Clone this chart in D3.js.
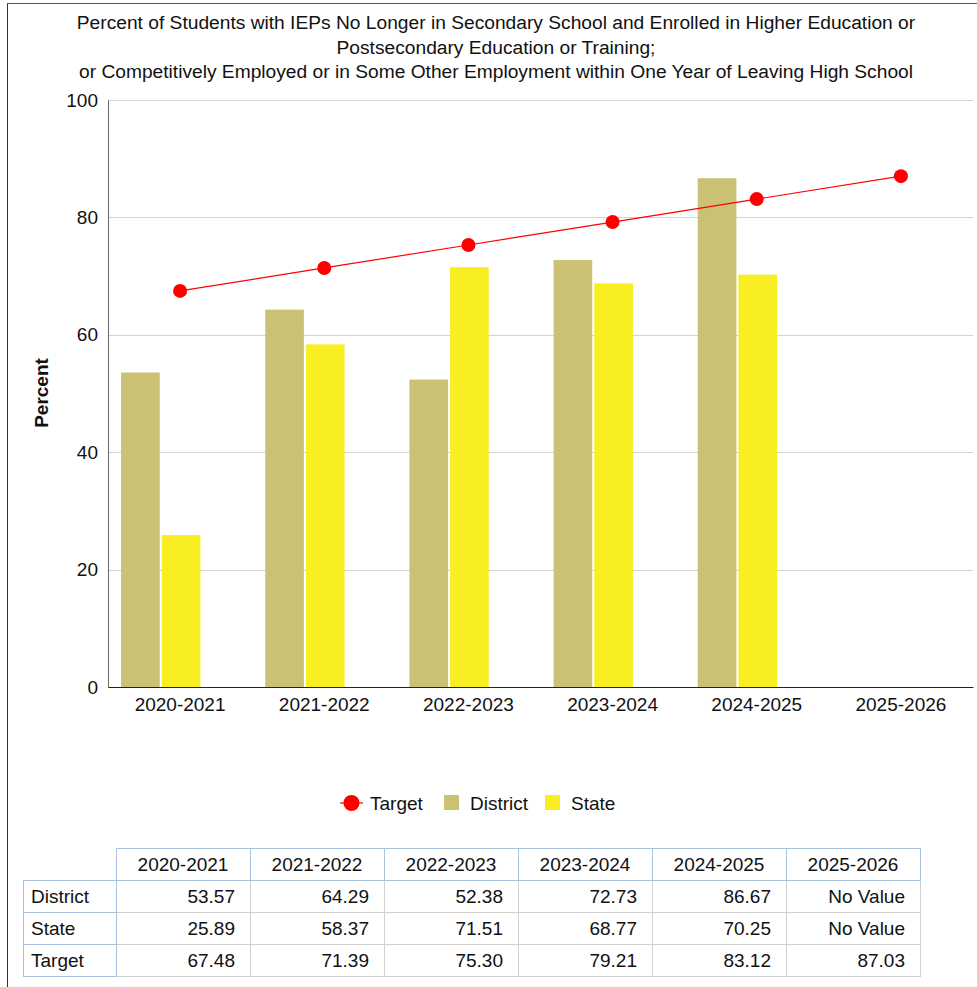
<!DOCTYPE html>
<html>
<head>
<meta charset="utf-8">
<script src="https://cdn.jsdelivr.net/npm/d3@7"></script>
<style>
  html, body { margin: 0; padding: 0; background: #fff; }
  svg { display: block; font-family: "Liberation Sans", Arial, sans-serif; }
</style>
</head>
<body>
<svg id="chart" width="977" height="987"></svg>
<script>
const categories = ["2020-2021", "2021-2022", "2022-2023", "2023-2024", "2024-2025", "2025-2026"];
const districtValues = [53.57, 64.29, 52.38, 72.73, 86.67, null];
const stateValues = [25.89, 58.37, 71.51, 68.77, 70.25, null];
const targetValues = [67.48, 71.39, 75.30, 79.21, 83.12, 87.03];
const yTicks = [0, 20, 40, 60, 80, 100];
const titleLines = [
  "Percent of Students with IEPs No Longer in Secondary School and Enrolled in Higher Education or",
  "Postsecondary Education or Training;",
  "or Competitively Employed or in Some Other Employment within One Year of Leaving High School"
];
const seriesNames = ["District", "State", "Target"];

const colors = { District: "#cbc174", State: "#f8ee22", Target: "#ff0000" };
const FS = 19;

const svg = d3.select("#chart");

// outer frame
svg.append("line").attr("x1", 7.5).attr("x2", 7.5).attr("y1", 3).attr("y2", 987).attr("stroke", "#333").attr("stroke-width", 1);
svg.append("line").attr("x1", 7).attr("x2", 977).attr("y1", 3.5).attr("y2", 3.5).attr("stroke", "#555").attr("stroke-width", 1);

const plot = { left: 108, right: 973, top: 100, bottom: 687 };

const x = d3.scaleBand().domain(categories).range([plot.left, plot.right]).padding(0);
const y = d3.scaleLinear().domain([0, 100]).range([plot.bottom, plot.top]);
// three series slots per category; Target slot is drawn as a line
const sub = d3.scaleBand().domain(seriesNames).range([-59, 61]).paddingInner(0.05);

// title
const title = svg.append("text").attr("text-anchor", "middle").attr("font-size", 19.2).attr("fill", "#111");
titleLines.forEach((t, i) => {
  title.append("tspan").attr("x", 496).attr("y", 29 + i * 24.5).text(t);
});

// gridlines
svg.append("g").selectAll("line").data(yTicks.filter(d => d > 0)).join("line")
  .attr("x1", plot.left).attr("x2", plot.right)
  .attr("y1", d => Math.round(y(d)) + 0.5).attr("y2", d => Math.round(y(d)) + 0.5)
  .attr("stroke", "#d3d3d3").attr("stroke-width", 1);

// y axis
const yAxis = svg.append("g").attr("transform", `translate(${plot.left},0)`)
  .call(d3.axisLeft(y).tickValues(yTicks).tickSize(0).tickPadding(10).tickFormat(d3.format("d")));
yAxis.select(".domain").attr("stroke", "#666");
yAxis.selectAll("text").attr("font-size", FS).attr("fill", "#111").attr("font-family", "Liberation Sans, Arial, sans-serif");

svg.append("text").attr("transform", `translate(48,393) rotate(-90)`)
  .attr("text-anchor", "middle").attr("font-size", FS).attr("font-weight", "bold").attr("fill", "#111")
  .text("Percent");

// bars
const barData = [];
categories.forEach((c, i) => {
  if (districtValues[i] != null) barData.push({ cat: c, s: "District", v: districtValues[i] });
  if (stateValues[i] != null) barData.push({ cat: c, s: "State", v: stateValues[i] });
});
svg.append("g").selectAll("rect").data(barData).join("rect")
  .attr("x", d => x(d.cat) + x.bandwidth() / 2 + sub(d.s))
  .attr("width", sub.bandwidth())
  .attr("y", d => y(d.v))
  .attr("height", d => y(0) - y(d.v))
  .attr("fill", d => colors[d.s]);

// x axis
const xAxis = svg.append("g").attr("transform", `translate(0,${plot.bottom})`)
  .call(d3.axisBottom(x).tickSize(0).tickPadding(11));
xAxis.select(".domain").attr("stroke", "#222");
xAxis.selectAll("text").attr("font-size", FS).attr("fill", "#111").attr("font-family", "Liberation Sans, Arial, sans-serif");

// target line
const cx = c => x(c) + x.bandwidth() / 2;
const line = d3.line().x((d, i) => cx(categories[i])).y(d => y(d));
svg.append("path").datum(targetValues).attr("d", line).attr("fill", "none").attr("stroke", colors.Target).attr("stroke-width", 1.2);
svg.append("g").selectAll("circle").data(targetValues).join("circle")
  .attr("cx", (d, i) => cx(categories[i])).attr("cy", d => y(d)).attr("r", 7).attr("fill", colors.Target);

// legend
const lg = svg.append("g").attr("font-size", FS).attr("fill", "#111");
lg.append("line").attr("x1", 340).attr("x2", 363).attr("y1", 803).attr("y2", 803).attr("stroke", colors.Target).attr("stroke-width", 1.2);
lg.append("circle").attr("cx", 351.5).attr("cy", 803).attr("r", 8).attr("fill", colors.Target);
lg.append("text").attr("x", 370).attr("y", 810).text("Target");
lg.append("rect").attr("x", 444).attr("y", 795).attr("width", 15).attr("height", 15).attr("fill", colors.District);
lg.append("text").attr("x", 470).attr("y", 810).text("District");
lg.append("rect").attr("x", 545).attr("y", 795).attr("width", 15).attr("height", 15).attr("fill", colors.State);
lg.append("text").attr("x", 571).attr("y", 810).text("State");

// data table
const tbl = { left: 23, firstW: 93, colW: 134, top: 848, rowH: 32 };
const tg = svg.append("g").attr("font-size", FS).attr("fill", "#111");
const colX = i => tbl.left + tbl.firstW + i * tbl.colW;
const gridColor = "#d0d0d0", headColor = "#a9c3df";
const tableRows = [
  { name: "District", vals: districtValues },
  { name: "State", vals: stateValues },
  { name: "Target", vals: targetValues }
];
// data cells
tableRows.forEach((r, ri) => {
  const yy = tbl.top + tbl.rowH * (ri + 1);
  categories.forEach((c, ci) => {
    tg.append("rect").attr("x", colX(ci) + 0.5).attr("y", yy + 0.5).attr("width", tbl.colW).attr("height", tbl.rowH)
      .attr("fill", "none").attr("stroke", gridColor);
    tg.append("text").attr("x", colX(ci) + tbl.colW - 15).attr("y", yy + 23).attr("text-anchor", "end")
      .text(r.vals[ci] == null ? "No Value" : r.vals[ci].toFixed(2));
  });
});
// header cells
categories.forEach((c, ci) => {
  tg.append("rect").attr("x", colX(ci) + 0.5).attr("y", tbl.top + 0.5).attr("width", tbl.colW).attr("height", tbl.rowH)
    .attr("fill", "none").attr("stroke", headColor);
  tg.append("text").attr("x", colX(ci) + tbl.colW / 2).attr("y", tbl.top + 23).attr("text-anchor", "middle").text(c);
});
// row header cells
tableRows.forEach((r, ri) => {
  const yy = tbl.top + tbl.rowH * (ri + 1);
  tg.append("rect").attr("x", tbl.left + 0.5).attr("y", yy + 0.5).attr("width", tbl.firstW).attr("height", tbl.rowH)
    .attr("fill", "none").attr("stroke", headColor);
  tg.append("text").attr("x", tbl.left + 8).attr("y", yy + 23).text(r.name);
});
</script>
</body>
</html>
